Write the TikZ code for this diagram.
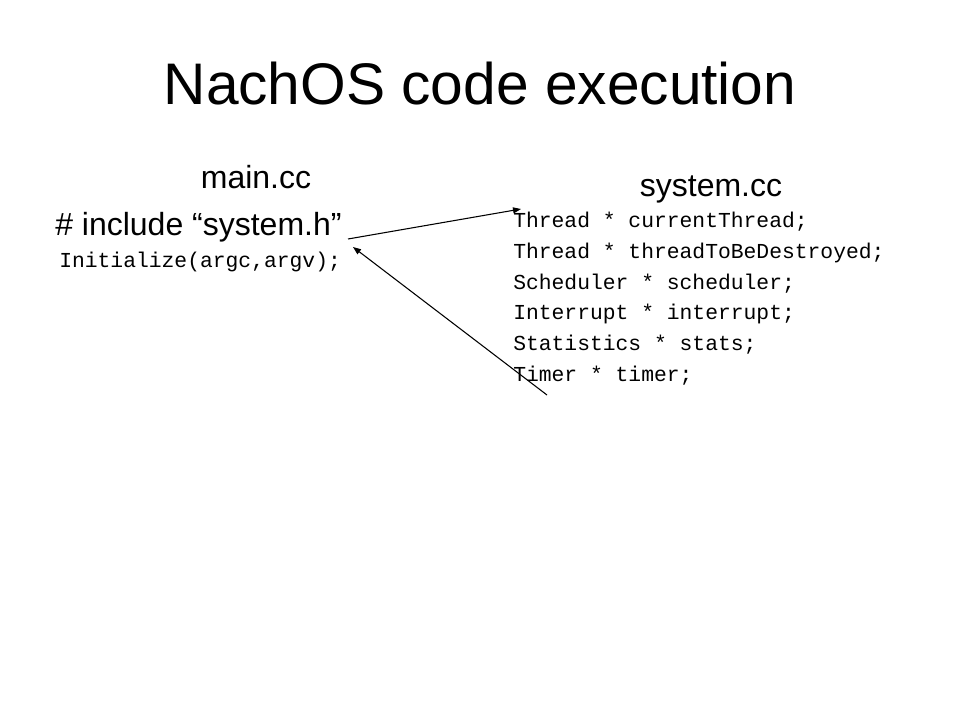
\documentclass[tikz,border=0pt]{standalone}
\usepackage{fontspec}
\setmainfont{Liberation Sans}
\newfontfamily\codefont{Liberation Mono}
\usetikzlibrary{arrows.meta}

\tikzset{
  slide/.style = {x=0.75pt, y=-0.75pt},
  heading/.style = {inner sep=0pt, anchor=base, font=\fontsize{24}{28}\selectfont},
  codeline/.style = {inner sep=0pt, anchor=base west, font=\codefont\fontsize{16}{19}\selectfont},
  link/.style = {line width=0.8pt, -{Triangle[length=6pt,width=4.5pt]}}
}

\begin{document}
\begin{tikzpicture}[slide]
\useasboundingbox [fill=white] (0,0) rectangle (960,720);
\node [inner sep=0pt, anchor=base, font=\fontsize{44}{52}\selectfont] (title) at (480,105) {NachOS code execution};
% left column
\node [heading] (mainfile) at (256,189) {main.cc};
\node [heading, anchor=base west] (incl) at (55,236) {\# include “system.h”};
\node [codeline] (init) at (59,268) {Initialize(argc,argv);};
% right column
\node [heading] (sysfile) at (711,197) {system.cc};
\node [codeline] (cur) at (513,228) {Thread * currentThread;};
\node [codeline] (dest) at (513,258.6) {Thread * threadToBeDestroyed;};
\node [codeline] (sched) at (513,289.2) {Scheduler * scheduler;};
\node [codeline] (intr) at (513,319.8) {Interrupt * interrupt;};
\node [codeline] (stats) at (513,350.4) {Statistics * stats;};
\node [codeline] (timer) at (513,381) {Timer * timer;};
% arrows between the files
\coordinate (hdrout) at (348,239);
\coordinate (sysin) at (521,209);
\coordinate (timerout) at (547,395);
\coordinate (hdrin) at (353,247);
\draw [link] (hdrout) -- (sysin);
\draw [link] (timerout) -- (hdrin);
\end{tikzpicture}
\end{document}
